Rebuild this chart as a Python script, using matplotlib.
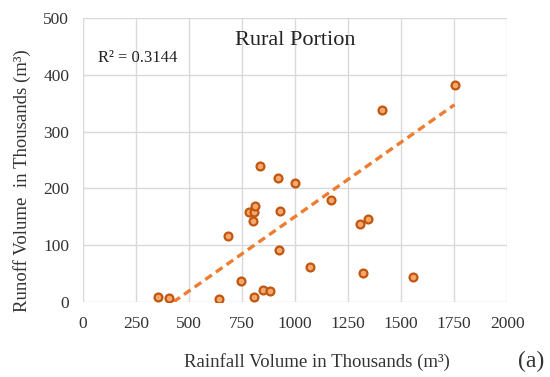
import numpy as np
import matplotlib

matplotlib.use("Agg", force=True)

import matplotlib.pyplot as plt


rainfall = [355, 406, 642, 745, 682, 835, 781, 806, 811, 802, 806, 851, 882,
            918, 929, 926, 1002, 1069, 1171, 1305, 1343, 1319, 1409, 1557, 1752]
runoff = [9, 6.5, 5, 37.5, 117, 239, 158, 159, 169, 143, 8, 21, 19.5,
          218, 160, 92, 210, 62, 180, 137, 147, 50.5, 338, 43.5, 383]

# linear trendline as drawn in the source chart
trend_slope = 0.262
trend_intercept = -111.6

x_ticks = [0, 250, 500, 750, 1000, 1250, 1500, 1750, 2000]
y_ticks = [0, 100, 200, 300, 400, 500]

plt.rcParams["font.family"] = ["Liberation Serif", "DejaVu Serif"]

fig = plt.figure(figsize=(5.5, 3.77), dpi=100)
ax = fig.add_axes([0.151, 0.199, 0.771, 0.753])

x = np.array(rainfall)
y = np.array(runoff)
fit_x = np.linspace(-trend_intercept / trend_slope, x.max(), 100)
ax.plot(fit_x, trend_slope * fit_x + trend_intercept, color="#ED7D31",
        linestyle=(0, (2.4, 1.5)), linewidth=2.4, zorder=2)

ax.scatter(x, y, s=32, facecolor="#F5A76C", edgecolor="#C0560F",
           linewidth=1.6, zorder=3)

ax.set_xlim(0, 2000)
ax.set_ylim(0, 500)
ax.set_xticks(x_ticks)
ax.set_yticks(y_ticks)
ax.tick_params(length=0, labelsize=12.5, colors="#333333", pad=10)
ax.grid(True, color="#D9D9D9", linewidth=1)
ax.set_axisbelow(True)
for spine in ax.spines.values():
    spine.set_visible(False)

ax.text(0.5, 0.955, "Rural Portion", transform=ax.transAxes, ha="center",
        va="top", fontsize=16, color="#222222")
ax.text(0.035, 0.86, "R² = 0.3144", transform=ax.transAxes, ha="left",
        va="center", fontsize=12, color="#222222")

fig.text(0.577, 0.04, "Rainfall Volume in Thousands (m³)", ha="center",
         va="center", fontsize=13.5, color="#333333")
fig.text(0.04, 0.52, "Runoff Volume  in Thousands (m³)", ha="center",
         va="center", rotation=90, fontsize=13.5, color="#333333")
fig.text(0.965, 0.04, "(a)", ha="center", va="center", fontsize=17,
         color="#333333")

fig.savefig("out.png", dpi=100)
